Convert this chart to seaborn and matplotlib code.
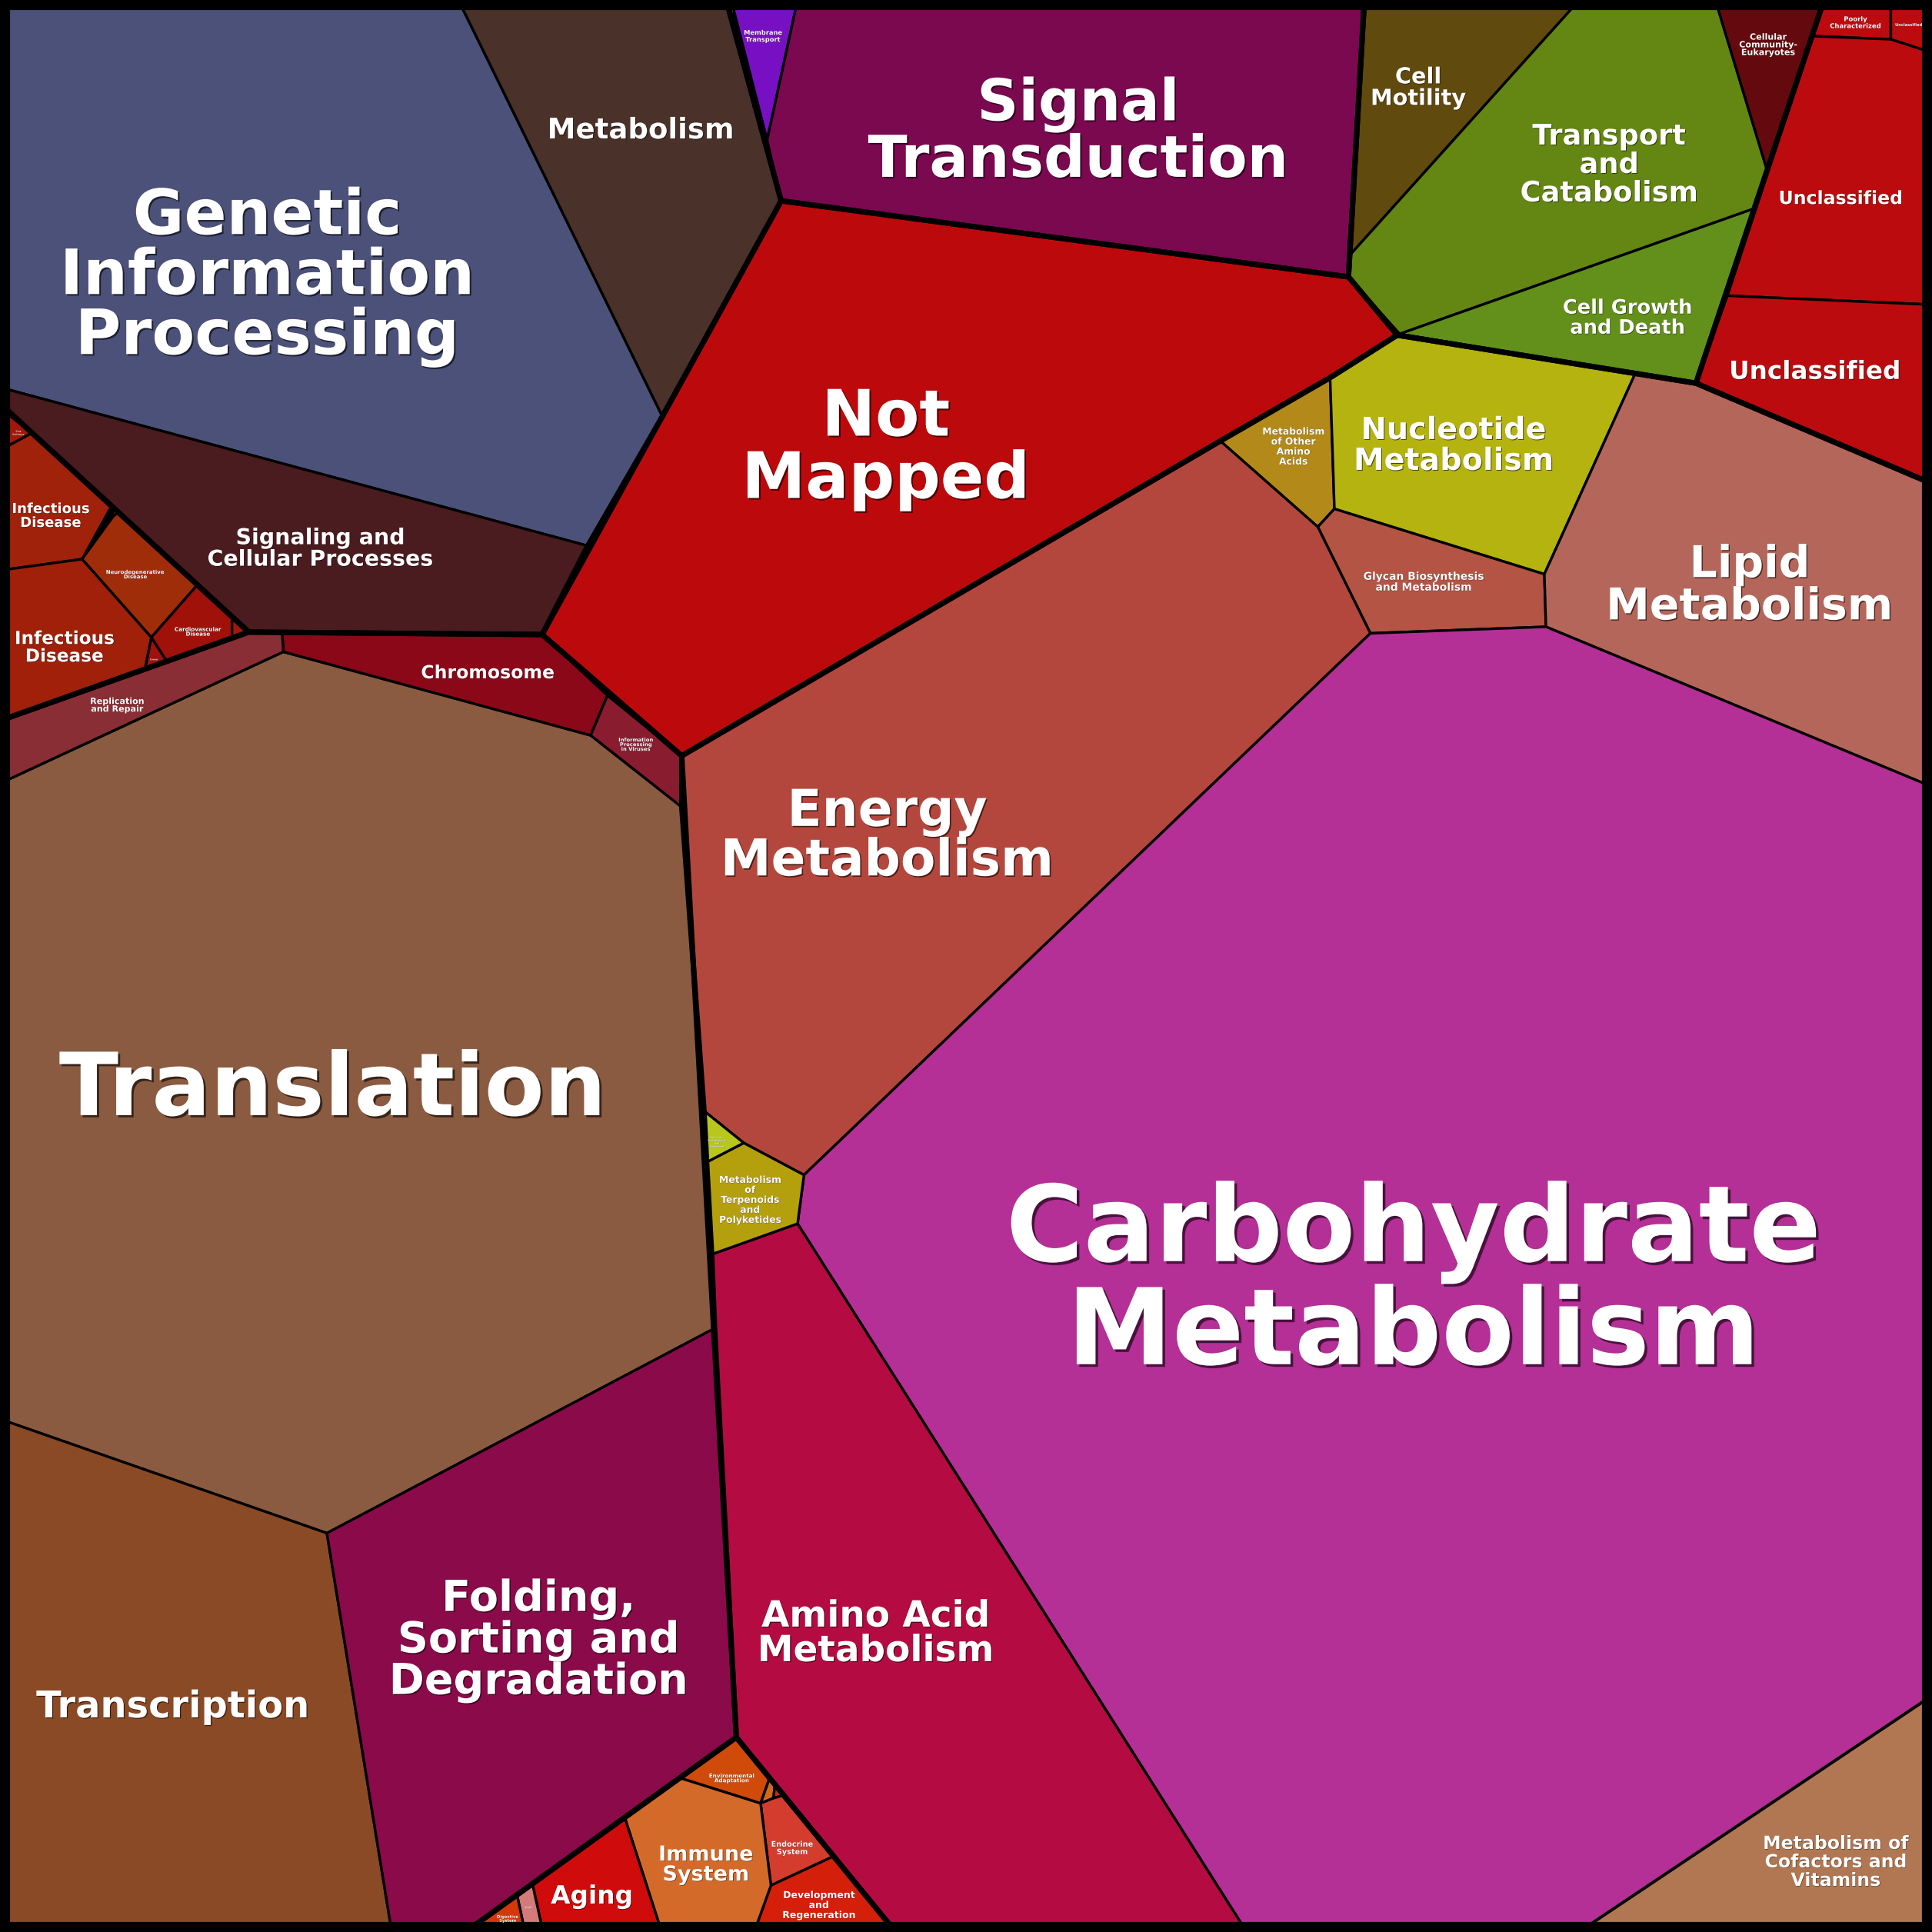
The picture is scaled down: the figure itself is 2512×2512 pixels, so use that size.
import matplotlib
matplotlib.use("Agg")
import matplotlib.pyplot as plt
import matplotlib.patheffects as pe
import seaborn as sns
import pandas as pd

# Voronoi treemap cells, outlines (1568 px frame, y down)
cell_names = [
    "Genetic Information Processing", "Metabolism", "Other", "Signaling and Cellular Processes",
    "Membrane Transport", "Signal Transduction",
    "Cell Motility", "Transport and Catabolism", "Cell Growth and Death", "Cellular Community-Eukaryotes",
    "Poorly Characterized", "Unclassified", "Unclassified", "Unclassified",
    "Not Mapped",
    "Metabolism of Other Amino Acids", "Nucleotide Metabolism", "Glycan Biosynthesis and Metabolism",
    "Lipid Metabolism", "Energy Metabolism", "Carbohydrate Metabolism",
    "Metabolism of Cofactors and Vitamins", "Amino Acid Metabolism",
    "Metabolism of Terpenoids and Polyketides", "Xenobiotics Biodegradation and Metabolism",
    "Translation", "Transcription", "Folding, Sorting and Degradation", "Chromosome",
    "Information Processing in Viruses", "Replication and Repair",
    "Drug Resistance", "Infectious Disease", "Other Disease", "Neurodegenerative Disease",
    "Cardiovascular Disease", "Other Disease", "Cancer", "Infectious Disease",
    "Environmental Adaptation", "Sensory System", "Circulatory System", "Endocrine System",
    "Development and Regeneration", "Immune System", "Aging", "Excretory System", "Digestive System",
]

cell_colors = [
    "#4b5179", "#4a3129", "#8a2a14", "#4a1b1f",
    "#7710c2", "#7a0950",
    "#614a0e", "#648612", "#62901b", "#640a0e",
    "#bc0b0e", "#bc0b0e", "#bc0b0e", "#bc0b0e",
    "#bc0a0c",
    "#b38a1a", "#b4b30f", "#b45444",
    "#b4665a", "#b4473d", "#b42f96",
    "#b07752", "#b40c42",
    "#b4a00c", "#b8c71c",
    "#8a5b40", "#8a4a25", "#8a0a4a", "#8a0818",
    "#8a1c30", "#8a2e35",
    "#a0180a", "#a0220a", "#a0180a", "#a02d0a",
    "#a0110a", "#a0180a", "#a0100e", "#a0200a",
    "#d04a0a", "#d06a1a", "#d0281a", "#d43d2d",
    "#d41f0a", "#d46a2a", "#d00b0b", "#d47a78", "#d4380a",
]

cell_shapes = [
    [(6, 6), (375, 6), (537.6, 338), (477, 443), (6, 316)],
    [(375, 6), (591, 6), (634, 163), (537.6, 338)],
    [(589, 6), (601, 6), (594, 12)],
    [(6, 316), (477, 443), (440, 515), (229, 513.4), (201.9, 513), (6, 333)],
    [(595, 6), (646, 6), (622.6, 113.6)],
    [(646, 6), (1107, 6), (1094.4, 224.7), (634, 163), (622.6, 113.6)],
    [(1107, 6), (1276.5, 6), (1096.5, 206)],
    [(1276.5, 6), (1394, 6), (1434, 137.6), (1423.3, 169.4), (1136, 271), (1094.4, 224.7), (1096.5, 206)],
    [(1136, 271), (1423.3, 169.4), (1376.4, 311)],
    [(1394, 6), (1478.4, 6), (1434, 137.6)],
    [(1478.4, 6), (1534.6, 6), (1534.6, 31.9), (1471, 29.3)],
    [(1534.6, 6), (1562, 6), (1562, 40.8), (1534.6, 31.9)],
    [(1471, 29.3), (1534.6, 31.9), (1562, 40.8), (1562, 247), (1402, 240)],
    [(1402, 240), (1562, 247), (1562, 390), (1376.4, 311)],
    [(634, 163), (1094.4, 224.7), (1134, 272), (1079.5, 306.5), (990.4, 357.9), (553.3, 613.4), (440, 515)],
    [(990.4, 357.9), (1079.5, 306.5), (1083, 413), (1069.5, 427.6)],
    [(1079.5, 306.5), (1134, 272), (1327, 303.5), (1253.4, 466), (1083, 413)],
    [(1069.5, 427.6), (1083, 413), (1253.4, 466), (1254.7, 508.7), (1112.2, 514)],
    [(1327, 303.5), (1376.4, 311), (1562, 390), (1562, 636), (1254.7, 508.7), (1253.4, 466)],
    [(553.3, 613.4), (990.4, 357.9), (1069.5, 427.6), (1112.2, 514), (652.5, 953.6),
     (603.6, 927.6), (571.4, 901.6), (553.3, 655)],
    [(1112.2, 514), (1254.7, 508.7), (1562, 636), (1562, 1380), (1290, 1562), (1008, 1562),
     (647.3, 993.1), (652.5, 953.6)],
    [(1562, 1380), (1562, 1562), (1290, 1562)],
    [(577.6, 1018), (647.3, 993.1), (1008, 1562), (722, 1562), (597.6, 1410), (580, 1078)],
    [(573.5, 943.2), (603.6, 927.6), (652.5, 953.6), (647.3, 993.1), (577.6, 1018)],
    [(571.4, 901.6), (603.6, 927.6), (573.5, 943.2)],
    [(6, 633), (230, 529), (479.4, 596.8), (553.3, 655), (571.4, 901.6), (573.5, 943.2),
     (577.6, 1018), (580, 1078), (265.3, 1244.3), (6, 1153.8)],
    [(6, 1153.8), (265.3, 1244.3), (317, 1562), (6, 1562)],
    [(265.3, 1244.3), (580, 1078), (597.6, 1410), (386, 1562), (317, 1562)],
    [(229, 513.4), (440, 515), (493, 564.5), (479.4, 596.8), (230, 529)],
    [(493, 564.5), (553.3, 613.4), (553.3, 655), (479.4, 596.8)],
    [(6, 582.8), (201.9, 513), (229, 513.4), (230, 529), (6, 633)],
    [(6, 336), (26, 351.4), (6, 362.2)],
    [(6, 362.2), (26, 351.4), (90.5, 410.7), (66.6, 453.8), (6, 462.1)],
    [(90.5, 410.7), (96, 415.8), (92, 419)],
    [(92, 419), (96, 415.8), (160.2, 474.7), (122.8, 517.3), (66.6, 453.8)],
    [(160.2, 474.7), (188.3, 500.5), (188.3, 517.8), (135.3, 536.7), (122.8, 517.3)],
    [(188.3, 500.5), (201.9, 513), (188.3, 517.8)],
    [(122.8, 517.3), (135.3, 536.7), (117.6, 543)],
    [(6, 462.1), (66.6, 453.8), (122.8, 517.3), (117.6, 543), (6, 582.8)],
    [(597.6, 1410), (624.6, 1443), (617.3, 1463.6), (551.8, 1443)],
    [(624.6, 1443), (629, 1448.4), (627.7, 1459.4), (617.3, 1463.6)],
    [(629, 1448.4), (636, 1457), (627.7, 1459.4)],
    [(617.3, 1463.6), (627.7, 1459.4), (636, 1457), (676.6, 1506.5), (625.7, 1530.2)],
    [(625.7, 1530.2), (676.6, 1506.5), (722, 1562), (614.2, 1562)],
    [(551.8, 1443), (617.3, 1463.6), (625.7, 1530.2), (614.2, 1562), (535.1, 1562), (507, 1475)],
    [(507, 1475), (535.1, 1562), (439.4, 1562), (432.1, 1528.9)],
    [(432.1, 1528.9), (439.4, 1562), (424.8, 1562), (419.6, 1537.9)],
    [(419.6, 1537.9), (424.8, 1562), (386, 1562)],
]

# top level groups (drawn with the heavier border)
group_shapes = [
    [(6, 6), (591, 6), (634, 163), (537.6, 338), (477, 443), (440, 515), (201.9, 513), (6, 333)],
    [(6, 333), (201.9, 513), (6, 582.8)],
    [(6, 582.8), (201.9, 513), (440, 515), (553.3, 613.4), (553.3, 655), (571.4, 901.6),
     (573.5, 943.2), (577.6, 1018), (580, 1078), (597.6, 1410), (386, 1562), (6, 1562)],
    [(634, 163), (1094.4, 224.7), (1134, 272), (1079.5, 306.5), (990.4, 357.9), (553.3, 613.4), (440, 515)],
    [(553.3, 613.4), (990.4, 357.9), (1079.5, 306.5), (1134, 272), (1376.4, 311), (1562, 390),
     (1562, 1562), (722, 1562), (597.6, 1410)],
    [(597.6, 1410), (722, 1562), (386, 1562)],
    [(591, 6), (1107, 6), (1094.4, 224.7), (634, 163)],
    [(1107, 6), (1478.4, 6), (1376.4, 311), (1134, 272), (1094.4, 224.7)],
    [(1478.4, 6), (1562, 6), (1562, 390), (1376.4, 311)],
]

label_texts = [
    "Genetic\nInformation\nProcessing", "Metabolism", "Signaling and\nCellular Processes",
    "Membrane\nTransport", "Signal\nTransduction", "Cell\nMotility", "Transport\nand\nCatabolism",
    "Cell Growth\nand Death", "Cellular\nCommunity-\nEukaryotes", "Poorly\nCharacterized",
    "Unclassified", "Unclassified", "Unclassified", "Not\nMapped",
    "Metabolism\nof Other\nAmino\nAcids", "Nucleotide\nMetabolism", "Glycan Biosynthesis\nand Metabolism",
    "Lipid\nMetabolism", "Energy\nMetabolism", "Carbohydrate\nMetabolism",
    "Metabolism of\nCofactors and\nVitamins", "Amino Acid\nMetabolism",
    "Metabolism\nof\nTerpenoids\nand\nPolyketides", "Xenobiotics\nBiodegradation\nand\nMetabolism",
    "Translation", "Transcription", "Folding,\nSorting and\nDegradation", "Chromosome",
    "Information\nProcessing\nin Viruses", "Replication\nand Repair", "Drug\nResistance",
    "Infectious\nDisease", "Neurodegenerative\nDisease", "Cardiovascular\nDisease", "Cancer",
    "Infectious\nDisease", "Environmental\nAdaptation", "Immune\nSystem", "Endocrine\nSystem",
    "Development\nand\nRegeneration", "Aging", "Digestive\nSystem", "Excretory\nSystem",
]
label_x = [217, 520, 260, 619.4, 875, 1151, 1306, 1321, 1435, 1506, 1549, 1494, 1473, 719,
           1049.7, 1180, 1155.4, 1420, 720, 1147, 1490, 711, 608.8, 582, 270, 140, 437, 396,
           516, 95, 15, 41, 110, 160.7, 125, 52.4, 594, 573, 643, 664.6, 480.4, 412, 429]
label_y = [221, 104, 444, 29, 104, 70, 132, 257, 36, 18, 20, 160, 300, 360,
           362, 360, 471.7, 473, 676, 1035, 1510, 1324, 973.4, 926.5, 880, 1383, 1329, 545,
           604, 572, 351, 418, 466, 512.5, 535, 524.6, 1443, 1512.5, 1499.4, 1545.8, 1537.4, 1557, 1548]
label_size = [58.5, 26.7, 20.5, 6, 54, 20.7, 26.5, 18.5, 8, 6.1, 3.7, 17, 23.5, 60,
              8.9, 28.6, 10, 41, 47.6, 99, 17, 33.8, 8.9, 2, 81.5, 34.5, 40, 17,
              4.9, 8, 1.8, 13, 5, 5.2, 2, 16.7, 5.2, 19.5, 7, 9, 23.6, 3.8, 1.5]

sns.set_style("white")
plt.rcParams["font.family"] = ["DejaVu Sans"]

fig = plt.figure(figsize=(25.12, 25.12), dpi=100, facecolor="black")
ax = fig.add_axes([0, 0, 1, 1])
ax.set_facecolor("black")

for shape, color in zip(cell_shapes, cell_colors):
    xs = [p[0] for p in shape]
    ys = [p[1] for p in shape]
    ax.fill(xs, ys, facecolor=color, edgecolor="black", linewidth=2.4, joinstyle="round")

for shape in group_shapes:
    ring = shape + [shape[0]]
    outline = pd.DataFrame({"x": [p[0] for p in ring], "y": [p[1] for p in ring]})
    sns.lineplot(data=outline, x="x", y="y", sort=False, estimator=None, color="black",
                 linewidth=5.0, solid_joinstyle="round", solid_capstyle="round", ax=ax)

for text, x, y, size in zip(label_texts, label_x, label_y, label_size):
    off = max(size * 0.025, 0.12)
    # va="center" sits a little high on the glyph block, nudge down
    ax.text(x, y + size * 0.07, text, ha="center", va="center", color="white", fontsize=size,
            fontweight="bold", linespacing=1.0,
            path_effects=[pe.SimplePatchShadow(offset=(off, -off), shadow_rgbFace="black", alpha=0.6),
                          pe.Normal()])

ax.set_xlim(0, 1568)
ax.set_ylim(1568, 0)
ax.axis("off")

fig.savefig("out.png", dpi=100, facecolor="black")
